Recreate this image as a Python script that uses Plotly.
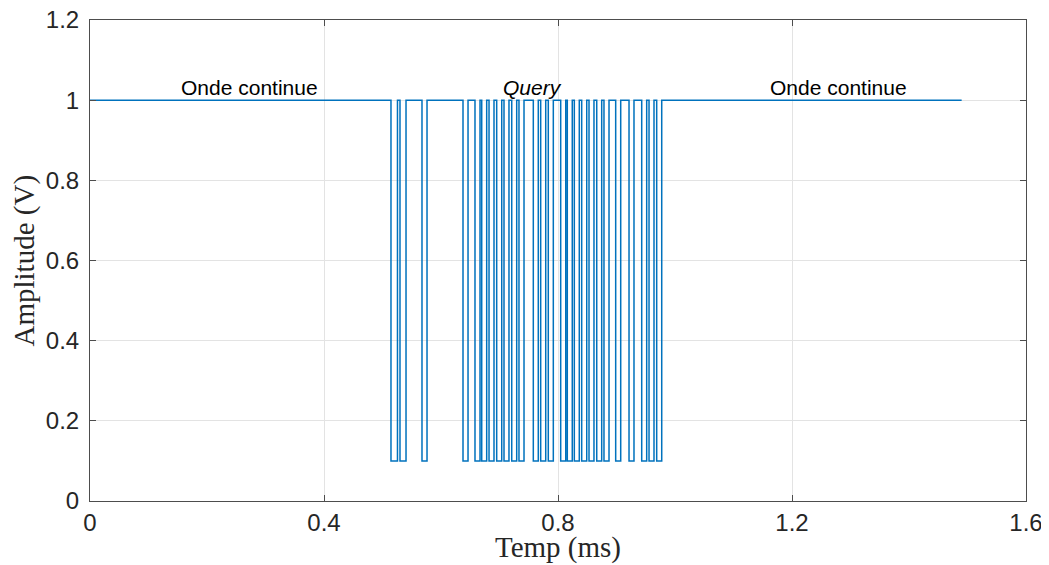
import plotly.graph_objects as go

# Signal data (ms): start/end of the low segments of the PIE-coded Query frame
t_start = 0.0
t_end = 1.49
level_high = 1.0
level_low = 0.1
low_starts = [0.5145, 0.5299, 0.5675, 0.6376, 0.6581, 0.6696, 0.6821, 0.6952, 0.7077,
              0.7209, 0.7333, 0.7578, 0.7704, 0.7834, 0.8046, 0.8159, 0.8279, 0.8405,
              0.8530, 0.8662, 0.8786, 0.8986, 0.9214, 0.9431, 0.9556, 0.9687]
low_ends = [0.5256, 0.5402, 0.5761, 0.6462, 0.6667, 0.6781, 0.6906, 0.7038, 0.7162,
            0.7294, 0.7419, 0.7663, 0.7790, 0.7920, 0.8132, 0.8244, 0.8364, 0.8491,
            0.8615, 0.8747, 0.8872, 0.9072, 0.9299, 0.9516, 0.9641, 0.9773]

x_ticks = [0, 0.4, 0.8, 1.2, 1.6]
x_tick_labels = ["0", "0.4", "0.8", "1.2", "1.6"]
y_ticks = [0, 0.2, 0.4, 0.6, 0.8, 1.0, 1.2]
y_tick_labels = ["0", "0.2", "0.4", "0.6", "0.8", "1", "1.2"]

labels = ["Onde continue", "<i>Query</i>", "Onde continue"]
label_x = [0.272, 0.757, 1.279]
label_y = [1.032, 1.032, 1.032]

x_title = "Temp (ms)"
y_title = "Amplitude (V)"

xs = [t_start]
ys = [level_high]
for s, e in zip(low_starts, low_ends):
    xs += [s, s, e, e]
    ys += [level_high, level_low, level_low, level_high]
xs.append(t_end)
ys.append(level_high)

fig = go.Figure()
fig.add_trace(go.Scatter(x=xs, y=ys, mode="lines",
                         line=dict(color="#0072BD", width=1.5), showlegend=False))

for txt, lx, ly in zip(labels, label_x, label_y):
    fig.add_annotation(x=lx, y=ly, text=txt, showarrow=False,
                       font=dict(family="Liberation Sans, Arial", size=21, color="#000000"),
                       xanchor="center", yanchor="middle")

title_font = dict(family="Liberation Serif, Times New Roman", size=29, color="#262626")
fig.add_annotation(x=0.5, y=0, xref="paper", yref="paper", text=x_title, showarrow=False,
                   xanchor="center", yanchor="middle", yshift=-46, font=title_font,
                   borderpad=0)
fig.add_annotation(x=0, y=0.5, xref="paper", yref="paper", text=y_title, showarrow=False,
                   xanchor="center", yanchor="middle", xshift=-66, textangle=-90,
                   font=title_font, borderpad=0)

axis_common = dict(showgrid=True, gridcolor="#E3E3E3", gridwidth=1,
                   showline=True, linecolor="#4D4D4D", linewidth=1, mirror="ticks",
                   ticks="inside", ticklen=6, tickcolor="#4D4D4D",
                   tickfont=dict(family="Liberation Sans, Arial", size=24, color="#262626"),
                   zeroline=False, automargin=False, ticklabeloverflow="allow")

fig.update_xaxes(range=[0, 1.6], tickvals=x_ticks, ticktext=x_tick_labels,
                 ticklabelstandoff=0, **axis_common)
fig.update_yaxes(range=[0, 1.2], tickvals=y_ticks, ticktext=y_tick_labels,
                 ticklabelstandoff=5, **axis_common)

# page body has an 8px margin, so the figure is sized/offset to land on the reference box
fig.update_layout(width=1041, height=557, margin=dict(l=82, r=23, t=12, b=64),
                  plot_bgcolor="white", paper_bgcolor="white")

fig.write_html("out.html")
